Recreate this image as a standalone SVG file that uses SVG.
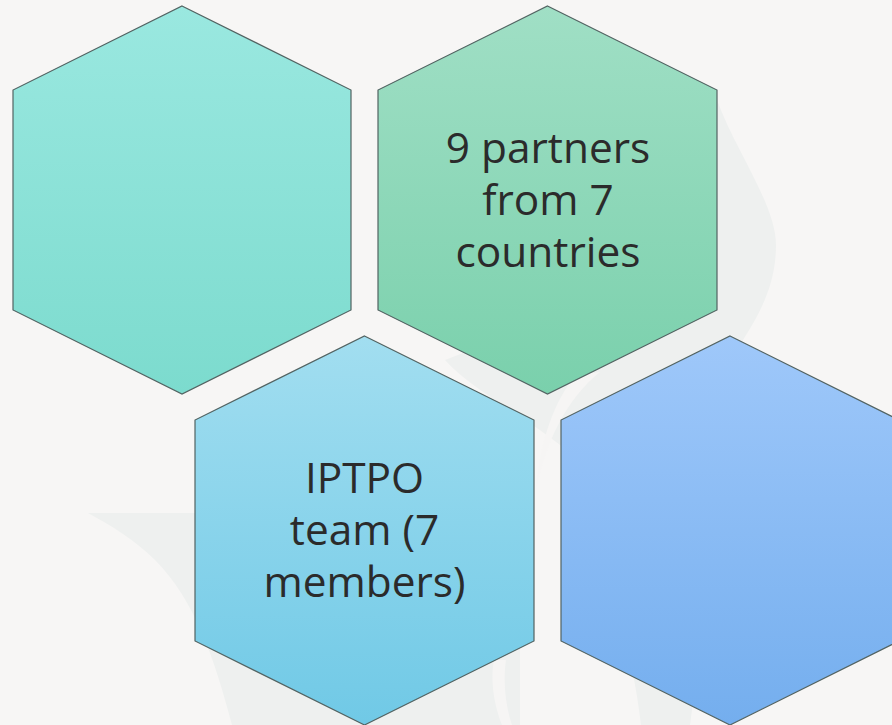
<svg xmlns="http://www.w3.org/2000/svg" width="892" height="725" viewBox="0 0 892 725">
<style>
.hex{stroke:#526362;stroke-width:1.2}
.bg{fill:#eef0ef}
.lt{fill:#f6f5f4}
text{font-family:"Open Sans","Noto Sans",sans-serif;font-size:42.4px;fill:#2b2b2b;text-anchor:middle}
</style>
<defs>
<linearGradient id="g1" x1="0" y1="0" x2="0" y2="1"><stop offset="0" stop-color="#9ae8e0"/><stop offset="1" stop-color="#7cdbce"/></linearGradient>
<linearGradient id="g2" x1="0" y1="0" x2="0" y2="1"><stop offset="0" stop-color="#a0dfc5"/><stop offset="1" stop-color="#7ad0ac"/></linearGradient>
<linearGradient id="g3" x1="0" y1="0" x2="0" y2="1"><stop offset="0" stop-color="#a2def0"/><stop offset="1" stop-color="#70c9e6"/></linearGradient>
<linearGradient id="g4" x1="0" y1="0" x2="0" y2="1"><stop offset="0" stop-color="#9fc8fa"/><stop offset="1" stop-color="#74aeee"/></linearGradient>
</defs>
<rect width="892" height="725" fill="#f7f6f5"/>
<g id="background">
<path class="bg" d="M717 100C735 150 776 205 776 245C776 290 755 320 740 345L690 725H641C632 640 600 560 590 480C575 440 480 400 445 360L600 300Z"/>
<path class="bg" d="M88 513H300V725H232C215 660 195 600 155 560C135 540 110 525 88 513Z"/>
<path class="bg" d="M300 540H520V725H300Z"/>
<path class="lt" d="M536 490C545 445 565 400 600 372L575 376C555 400 540 440 536 490Z"/>
<path class="lt" d="M494 660C490 680 494 705 502 725H512C505 705 503 680 506 660Z"/>
</g>
<g id="hex-1"><polygon class="hex" fill="url(#g1)" points="182,6 351,90 351,310 182,394 13,310 13,90"/></g>
<g id="hex-2"><polygon class="hex" fill="url(#g2)" points="547.500,6 717,90 717,310 547.500,394 378,310 378,90"/>
<text x="548" y="163">9 partners</text><text x="548" y="215">from 7</text><text x="548" y="267">countries</text></g>
<g id="hex-3"><polygon class="hex" fill="url(#g3)" points="364.500,336 534,420 534,641 364.500,725 195,641 195,420"/>
<text x="364.500" y="493">IPTPO</text><text x="364.500" y="545">team (7</text><text x="364.500" y="597">members)</text></g>
<g id="hex-4"><polygon class="hex" fill="url(#g4)" points="730,336 899,420 899,641 730,725 561,641 561,420"/></g>
<g id="connectors"/>
</svg>
